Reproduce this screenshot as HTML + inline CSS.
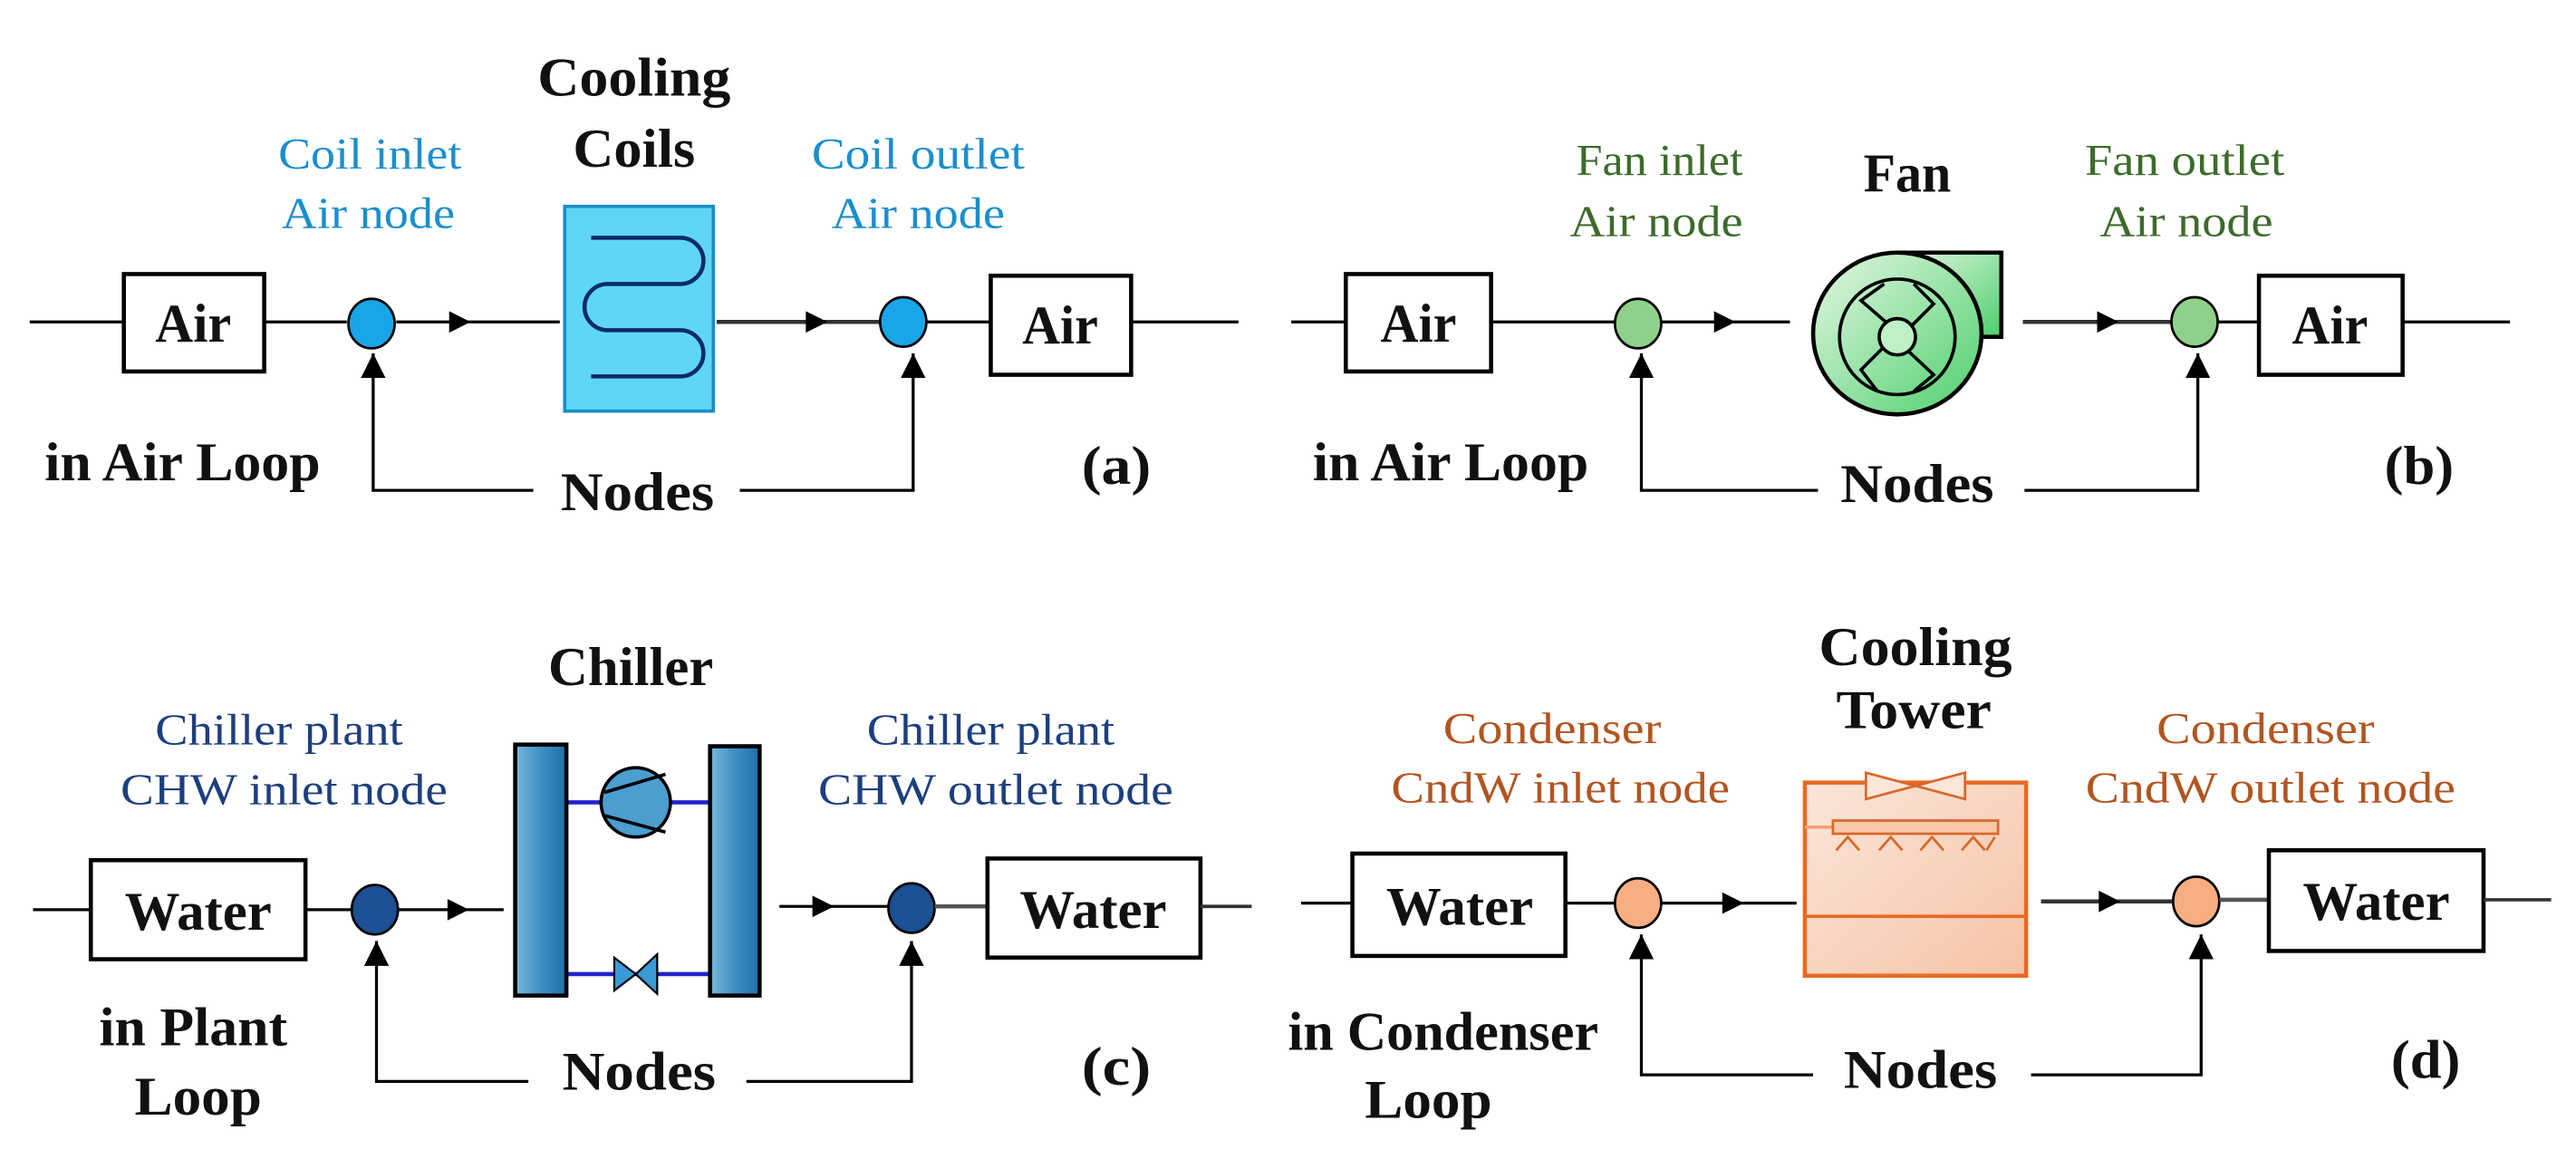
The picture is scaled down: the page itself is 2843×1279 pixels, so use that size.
<!DOCTYPE html>
<html><head><meta charset="utf-8"><style>
html,body{margin:0;padding:0;background:#fff;}
svg{display:block;}
text{font-family:"Liberation Serif",serif;}
.t{font-weight:bold;font-size:33px;fill:#111;text-anchor:middle;}
.l{font-size:27px;text-anchor:middle;}
.b{fill:#fff;stroke:#000;stroke-width:2.5;}
.ln{stroke:#000;stroke-width:1.8;fill:none;}
</style></head><body>
<svg width="2843" height="1279" viewBox="0 0 1560 702" preserveAspectRatio="none" xmlns="http://www.w3.org/2000/svg">
<defs>
<marker id="ah" viewBox="0 0 10 10" refX="10" refY="5" markerWidth="15" markerHeight="15" orient="auto" markerUnits="userSpaceOnUse"><path d="M0,0L10,5L0,10z" fill="#000"/></marker>
<linearGradient id="gc" x1="0" x2="1"><stop offset="0" stop-color="#7ab8dc"/><stop offset="0.5" stop-color="#3f8fc4"/><stop offset="1" stop-color="#1e6fa8"/></linearGradient>
<linearGradient id="gf" x1="0" y1="0" x2="1" y2="1"><stop offset="0" stop-color="#e6f7e6"/><stop offset="1" stop-color="#4ccf6a"/></linearGradient>
<linearGradient id="gt" x1="0" y1="0" x2="1" y2="1"><stop offset="0" stop-color="#fbe6da"/><stop offset="1" stop-color="#f6c3a6"/></linearGradient>
</defs>

<!-- ===== (a) ===== -->
<line class="ln" x1="18" y1="195" x2="75" y2="195"/>
<rect class="b" x="75" y="166" width="85" height="59"/>
<text class="t" x="117" y="207" textLength="46" lengthAdjust="spacingAndGlyphs">Air</text>
<line class="ln" x1="160" y1="195" x2="210" y2="195"/>
<ellipse cx="225" cy="196" rx="14" ry="15" fill="#18a6e8" stroke="#000" stroke-width="1.5"/>
<line class="ln" x1="240" y1="195" x2="339" y2="195"/>
<path d="M272,188.5 L285,195 L272,201.5z" fill="#000"/>
<rect x="342" y="125" width="90" height="124" fill="#5fd6f5" stroke="#1a8ec4" stroke-width="2"/>
<path d="M358,144 H412 a14,14 0 0 1 0,28 H368 a14,14 0 0 0 0,28 H412 a14,14 0 0 1 0,28 H358" fill="none" stroke="#0d2a6a" stroke-width="2.5"/>
<line x1="434" y1="195" x2="533" y2="195" stroke="#333" stroke-width="2.5"/>
<path d="M488,188.5 L501,195 L488,201.5z" fill="#000"/>
<ellipse cx="547" cy="195" rx="14" ry="15" fill="#18a6e8" stroke="#000" stroke-width="1.5"/>
<line class="ln" x1="561" y1="195" x2="600" y2="195"/>
<rect class="b" x="600" y="167" width="85" height="60"/>
<text class="t" x="642" y="208" textLength="46" lengthAdjust="spacingAndGlyphs">Air</text>
<line class="ln" x1="685" y1="195" x2="750" y2="195"/>
<text class="l" x="224" y="102" fill="#1a8fce" textLength="111" lengthAdjust="spacingAndGlyphs">Coil inlet</text>
<text class="l" x="223" y="138" fill="#1a8fce" textLength="105" lengthAdjust="spacingAndGlyphs">Air node</text>
<text class="t" x="384" y="58" textLength="117" lengthAdjust="spacingAndGlyphs">Cooling</text>
<text class="t" x="384" y="101" textLength="74" lengthAdjust="spacingAndGlyphs">Coils</text>
<text class="l" x="556" y="102" fill="#1a8fce" textLength="129" lengthAdjust="spacingAndGlyphs">Coil outlet</text>
<text class="l" x="556" y="138" fill="#1a8fce" textLength="105" lengthAdjust="spacingAndGlyphs">Air node</text>
<text class="t" x="27" y="291" style="text-anchor:start" textLength="167" lengthAdjust="spacingAndGlyphs">in Air Loop</text>
<text class="t" x="386" y="309" textLength="93" lengthAdjust="spacingAndGlyphs">Nodes</text>
<text class="t" x="676" y="293" textLength="42" lengthAdjust="spacingAndGlyphs">(a)</text>
<polyline class="ln" points="323,297 226,297 226,214" marker-end="url(#ah)"/>
<polyline class="ln" points="448,297 553,297 553,214" marker-end="url(#ah)"/>

<!-- ===== (b) ===== -->
<line class="ln" x1="782" y1="195" x2="815" y2="195"/>
<rect class="b" x="815" y="166" width="88" height="59"/>
<text class="t" x="859" y="207" textLength="46" lengthAdjust="spacingAndGlyphs">Air</text>
<line class="ln" x1="903" y1="195" x2="978" y2="195"/>
<ellipse cx="992" cy="196" rx="14" ry="15" fill="#8fd08a" stroke="#000" stroke-width="1.5"/>
<line class="ln" x1="1006" y1="195" x2="1084" y2="195"/>
<path d="M1038,188.5 L1051,195 L1038,201.5z" fill="#000"/>
<path d="M1149,153 H1212 V204 H1190" fill="url(#gf)" stroke="#000" stroke-width="2.5"/>
<ellipse cx="1149" cy="202" rx="51" ry="49" fill="url(#gf)" stroke="#000" stroke-width="2.5"/>
<circle cx="1149" cy="204" r="35" fill="none" stroke="#000" stroke-width="2"/>
<circle cx="1149" cy="204" r="11" fill="#bff0c6" stroke="#000" stroke-width="2"/>
<path d="M1142,195 L1127,182 L1141,172 M1158,197 L1171,184 L1159,172 M1156,213 L1171,227 L1159,237 M1140,211 L1127,224 L1137,237" fill="none" stroke="#000" stroke-width="2"/>
<line x1="1225" y1="195" x2="1315" y2="195" stroke="#333" stroke-width="2.5"/>
<path d="M1270,188.5 L1283,195 L1270,201.5z" fill="#000"/>
<ellipse cx="1329" cy="195" rx="14" ry="15" fill="#8fd08a" stroke="#000" stroke-width="1.5"/>
<line class="ln" x1="1343" y1="195" x2="1368" y2="195"/>
<rect class="b" x="1368" y="167" width="87" height="60"/>
<text class="t" x="1411" y="208" textLength="46" lengthAdjust="spacingAndGlyphs">Air</text>
<line class="ln" x1="1455" y1="195" x2="1520" y2="195"/>
<text class="l" x="1005" y="106" fill="#3d6b2c" textLength="101" lengthAdjust="spacingAndGlyphs">Fan inlet</text>
<text class="l" x="1003" y="143" fill="#3d6b2c" textLength="105" lengthAdjust="spacingAndGlyphs">Air node</text>
<text class="t" x="1155" y="116" textLength="53" lengthAdjust="spacingAndGlyphs">Fan</text>
<text class="l" x="1323" y="106" fill="#3d6b2c" textLength="121" lengthAdjust="spacingAndGlyphs">Fan outlet</text>
<text class="l" x="1324" y="143" fill="#3d6b2c" textLength="105" lengthAdjust="spacingAndGlyphs">Air node</text>
<text class="t" x="795" y="291" style="text-anchor:start" textLength="167" lengthAdjust="spacingAndGlyphs">in Air Loop</text>
<text class="t" x="1161" y="304" textLength="93" lengthAdjust="spacingAndGlyphs">Nodes</text>
<text class="t" x="1465" y="293" textLength="42" lengthAdjust="spacingAndGlyphs">(b)</text>
<polyline class="ln" points="1101,297 994,297 994,214" marker-end="url(#ah)"/>
<polyline class="ln" points="1226,297 1331,297 1331,214" marker-end="url(#ah)"/>

<!-- ===== (c) ===== -->
<line class="ln" x1="20" y1="551" x2="55" y2="551"/>
<rect class="b" x="55" y="521" width="130" height="60"/>
<text class="t" x="120" y="563" textLength="89" lengthAdjust="spacingAndGlyphs">Water</text>
<line class="ln" x1="185" y1="551" x2="213" y2="551"/>
<ellipse cx="227" cy="551" rx="14" ry="15" fill="#1c4f94" stroke="#000" stroke-width="1.5"/>
<line class="ln" x1="241" y1="551" x2="305" y2="551"/>
<path d="M271,544.5 L284,551 L271,557.5z" fill="#000"/>
<line x1="343" y1="486" x2="430" y2="486" stroke="#2222cc" stroke-width="2.5"/>
<line x1="343" y1="590" x2="430" y2="590" stroke="#2222cc" stroke-width="2.5"/>
<rect x="312" y="451" width="31" height="152" fill="url(#gc)" stroke="#000" stroke-width="2.5"/>
<rect x="430" y="452" width="30" height="151" fill="url(#gc)" stroke="#000" stroke-width="2.5"/>
<circle cx="385" cy="486" r="21" fill="#4c9ed0" stroke="#000" stroke-width="2"/>
<path d="M366,480 L403,469 M366,494 L403,504" stroke="#000" stroke-width="2"/>
<path d="M372,580 L385,590 L372,600z M398,578 L385,590 L398,602z" fill="#3a9ad6" stroke="#000" stroke-width="1.2"/>
<line class="ln" x1="472" y1="549" x2="538" y2="549"/>
<path d="M492,542.5 L505,549 L492,555.5z" fill="#000"/>
<ellipse cx="552" cy="550" rx="14" ry="15" fill="#1c4f94" stroke="#000" stroke-width="1.5"/>
<line x1="566" y1="549" x2="598" y2="549" stroke="#555" stroke-width="2.5"/>
<rect class="b" x="598" y="520" width="129" height="60"/>
<text class="t" x="662" y="562" textLength="89" lengthAdjust="spacingAndGlyphs">Water</text>
<line x1="727" y1="549" x2="758" y2="549" stroke="#333" stroke-width="2"/>
<text class="l" x="169" y="451" fill="#1d3f7e" textLength="150" lengthAdjust="spacingAndGlyphs">Chiller plant</text>
<text class="l" x="172" y="487" fill="#1d3f7e" textLength="198" lengthAdjust="spacingAndGlyphs">CHW inlet node</text>
<text class="t" x="382" y="415" textLength="100" lengthAdjust="spacingAndGlyphs">Chiller</text>
<text class="l" x="600" y="451" fill="#1d3f7e" textLength="150" lengthAdjust="spacingAndGlyphs">Chiller plant</text>
<text class="l" x="603" y="487" fill="#1d3f7e" textLength="215" lengthAdjust="spacingAndGlyphs">CHW outlet node</text>
<text class="t" x="117" y="633" textLength="114" lengthAdjust="spacingAndGlyphs">in Plant</text>
<text class="t" x="120" y="675" textLength="77" lengthAdjust="spacingAndGlyphs">Loop</text>
<text class="t" x="387" y="660" textLength="93" lengthAdjust="spacingAndGlyphs">Nodes</text>
<text class="t" x="676" y="657" textLength="42" lengthAdjust="spacingAndGlyphs">(c)</text>
<polyline class="ln" points="320,655 228,655 228,570" marker-end="url(#ah)"/>
<polyline class="ln" points="452,655 552,655 552,570" marker-end="url(#ah)"/>

<!-- ===== (d) ===== -->
<line class="ln" x1="788" y1="547" x2="819" y2="547"/>
<rect class="b" x="819" y="517" width="129" height="62"/>
<text class="t" x="884" y="560" textLength="89" lengthAdjust="spacingAndGlyphs">Water</text>
<line class="ln" x1="948" y1="547" x2="978" y2="547"/>
<ellipse cx="992" cy="547" rx="14" ry="15" fill="#f8ae80" stroke="#000" stroke-width="1.5"/>
<line class="ln" x1="1006" y1="547" x2="1088" y2="547"/>
<path d="M1043,540.5 L1056,547 L1043,553.5z" fill="#000"/>
<rect x="1093" y="474" width="134" height="117" fill="url(#gt)" stroke="#e86a24" stroke-width="2.5"/>
<line x1="1093" y1="555" x2="1227" y2="555" stroke="#e86a24" stroke-width="2"/>
<path d="M1130,468 L1160,476 L1130,484z M1190,468 L1160,476 L1190,484z" fill="#fbe6da" stroke="#d8682a" stroke-width="1.5"/>
<line x1="1093" y1="501" x2="1110" y2="501" stroke="#f0a070" stroke-width="2"/>
<rect x="1110" y="497" width="100" height="8" fill="#f8c8a8" stroke="#d8682a" stroke-width="1.5"/>
<path d="M1112,515 L1119,507 L1126,515 M1138,515 L1145,507 L1152,515 M1163,515 L1170,507 L1177,515 M1188,515 L1195,507 L1202,515 M1203,515 L1208,507" fill="none" stroke="#d8682a" stroke-width="1.5"/>
<line x1="1236" y1="546" x2="1316" y2="546" stroke="#333" stroke-width="2.5"/>
<path d="M1271,539.5 L1284,546 L1271,552.5z" fill="#000"/>
<ellipse cx="1330" cy="546" rx="14" ry="15" fill="#f8ae80" stroke="#000" stroke-width="1.5"/>
<line x1="1344" y1="545" x2="1374" y2="545" stroke="#555" stroke-width="2.5"/>
<rect class="b" x="1374" y="515" width="130" height="61"/>
<text class="t" x="1439" y="557" textLength="89" lengthAdjust="spacingAndGlyphs">Water</text>
<line x1="1504" y1="545" x2="1545" y2="545" stroke="#333" stroke-width="2"/>
<text class="l" x="940" y="450" fill="#b25520" textLength="132" lengthAdjust="spacingAndGlyphs">Condenser</text>
<text class="l" x="945" y="486" fill="#b25520" textLength="205" lengthAdjust="spacingAndGlyphs">CndW inlet node</text>
<text class="t" x="1160" y="403" textLength="117" lengthAdjust="spacingAndGlyphs">Cooling</text>
<text class="t" x="1159" y="441" textLength="94" lengthAdjust="spacingAndGlyphs">Tower</text>
<text class="l" x="1372" y="450" fill="#b25520" textLength="132" lengthAdjust="spacingAndGlyphs">Condenser</text>
<text class="l" x="1375" y="486" fill="#b25520" textLength="224" lengthAdjust="spacingAndGlyphs">CndW outlet node</text>
<text class="t" x="780" y="636" style="text-anchor:start" textLength="188" lengthAdjust="spacingAndGlyphs">in Condenser</text>
<text class="t" x="865" y="677" textLength="77" lengthAdjust="spacingAndGlyphs">Loop</text>
<text class="t" x="1163" y="659" textLength="93" lengthAdjust="spacingAndGlyphs">Nodes</text>
<text class="t" x="1469" y="653" textLength="42" lengthAdjust="spacingAndGlyphs">(d)</text>
<polyline class="ln" points="1098,651 994,651 994,566" marker-end="url(#ah)"/>
<polyline class="ln" points="1230,651 1333,651 1333,566" marker-end="url(#ah)"/>
</svg>
</body></html>
